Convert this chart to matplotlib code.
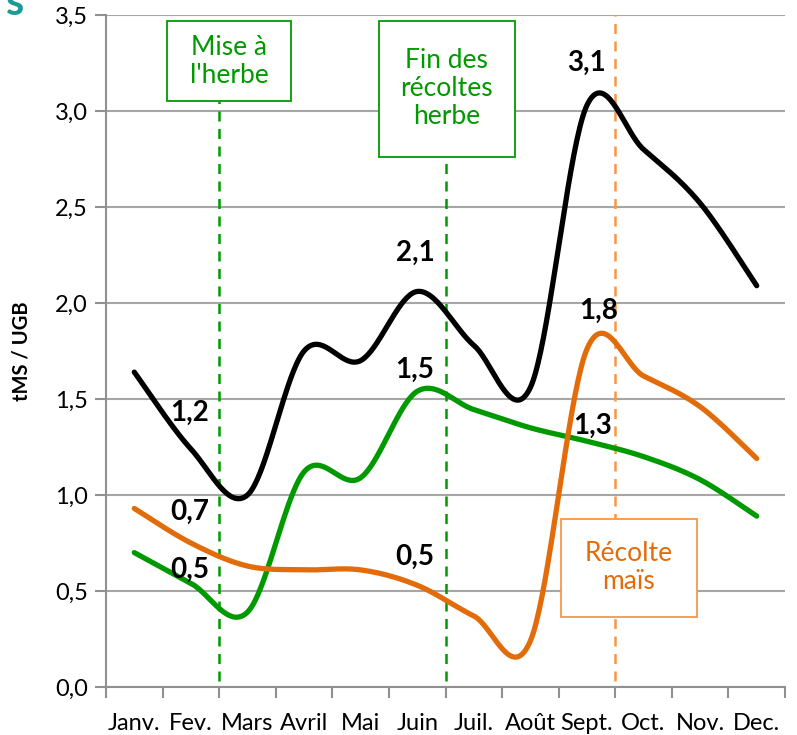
import numpy as np
import matplotlib
matplotlib.use("Agg")
import matplotlib.pyplot as plt
from matplotlib.patches import Rectangle
from matplotlib.ticker import FuncFormatter

plt.rcParams['font.family'] = ['Lato', 'DejaVu Sans']

# Month labels and values (tMS / UGB)
mois = ['Janv.', 'Fev.', 'Mars', 'Avril', 'Mai', 'Juin',
        'Juil.', 'Août', 'Sept.', 'Oct.', 'Nov.', 'Dec.']
total = [1.64, 1.24, 1.00, 1.75, 1.70, 2.06, 1.78, 1.56, 3.03, 2.80, 2.52, 2.09]
herbe = [0.70, 0.54, 0.39, 1.12, 1.09, 1.54, 1.445, 1.35, 1.28, 1.20, 1.08, 0.89]
mais = [0.93, 0.75, 0.63, 0.61, 0.61, 0.53, 0.37, 0.24, 1.76, 1.62, 1.46, 1.19]

# data labels: text, x, y
etiquettes = [('1,2', 0.98, 1.43), ('0,7', 0.98, 0.91), ('0,5', 0.98, 0.61),
              ('2,1', 4.96, 2.26), ('1,5', 4.96, 1.65), ('0,5', 4.96, 0.68),
              ('3,1', 8.0, 3.25), ('1,8', 8.2, 1.96), ('1,3', 8.1, 1.36)]

c_vert = '#009a00'
c_orange = '#e36c0a'
c_orange_clair = '#f79646'


def lisse(x, y, n=40):
    # Excel-like smoothed line (cubic Bezier, Catmull-Rom tangents)
    p = np.column_stack([x, y]).astype(float)
    p_ext = np.vstack([p[0], p, p[-1]])
    xs, ys = [], []
    t = np.linspace(0, 1, n)
    for i in range(len(p) - 1):
        p0 = p_ext[i + 1]
        p3 = p_ext[i + 2]
        p1 = p0 + (p_ext[i + 2] - p_ext[i]) / 6
        p2 = p3 - (p_ext[i + 3] - p_ext[i + 1]) / 6
        b = (np.outer((1 - t) ** 3, p0) + np.outer(3 * (1 - t) ** 2 * t, p1)
             + np.outer(3 * (1 - t) * t ** 2, p2) + np.outer(t ** 3, p3))
        xs.extend(b[:, 0])
        ys.extend(b[:, 1])
    return np.array(xs), np.array(ys)


fig = plt.figure(figsize=(7.97, 7.35), dpi=100)
ax = fig.add_axes([106 / 797, 1 - 687 / 735, (785 - 106) / 797, (687 - 15) / 735])

x = np.arange(len(mois))

# vertical dashed markers
ax.plot([1.5, 1.5], [0.03, 3.05], color=c_vert, lw=1.8, ls=(0, (4, 3)), zorder=2)
ax.plot([5.5, 5.5], [0.03, 2.76], color=c_vert, lw=1.8, ls=(0, (4, 3)), zorder=2)
ax.plot([8.5, 8.5], [0.03, 3.5], color=c_orange_clair, lw=1.8, ls=(0, (4, 3)), zorder=2)

for serie, col in [(total, 'black'), (herbe, c_vert), (mais, c_orange)]:
    xs, ys = lisse(x, serie)
    ax.plot(xs, ys, color=col, lw=3.8, solid_capstyle='round', zorder=4)

for txt, tx, ty in etiquettes:
    ax.text(tx, ty, txt, ha='center', va='center', fontsize=20,
            fontweight='bold', color='black', zorder=6)

# annotation boxes
boites = [
    (0.578, 3.05, 2.19, 0.42, c_vert, "Mise à\nl'herbe", 3.26),
    (4.33, 2.76, 2.39, 0.71, c_vert, "Fin des\nrécoltes\nherbe", 3.115),
    (7.54, 0.365, 2.40, 0.51, c_orange_clair, "Récolte\nmaïs", 0.62),
]
for bx, by, bw, bh, col, txt, ty in boites:
    ax.add_patch(Rectangle((bx, by), bw, bh, facecolor='white', edgecolor=col,
                           lw=1.3, zorder=5))
    ax.text(bx + bw / 2, ty, txt, ha='center', va='center', fontsize=19,
            color=col if col == c_vert else c_orange, linespacing=1.15, zorder=6)

ax.set_xlim(-0.5, 11.5)
ax.set_ylim(0, 3.5)
ax.set_yticks(np.arange(0, 3.51, 0.5))
ax.yaxis.set_major_formatter(FuncFormatter(lambda v, p: f'{v:.1f}'.replace('.', ',')))
ax.grid(axis='y', color='#a6a6a6', lw=1.5, zorder=0)
ax.set_axisbelow(True)

ax.set_xticks(np.arange(-0.5, 12, 1))
ax.set_xticklabels([])
ax.set_xticks(x, minor=True)
ax.set_xticklabels(mois, minor=True, fontsize=17)
ax.tick_params(axis='x', which='major', length=8, width=1.5, color='#909090')
ax.tick_params(axis='x', which='minor', length=0, pad=19)
ax.tick_params(axis='y', length=8, width=1.5, color='#909090', labelsize=17, pad=5)

for s in ['top', 'right']:
    ax.spines[s].set_visible(False)
for s in ['left', 'bottom']:
    ax.spines[s].set_color('#909090')
    ax.spines[s].set_linewidth(1.5)

ax.set_ylabel('tMS / UGB', fontsize=14.5, fontweight='bold', labelpad=17)

# leftover of the cropped title
fig.text(24 / 797, 1 - 15 / 735, 's', ha='right', va='baseline', fontsize=30,
         fontweight='bold', color='#1a9a9a')

fig.savefig('out.png', dpi=100)
